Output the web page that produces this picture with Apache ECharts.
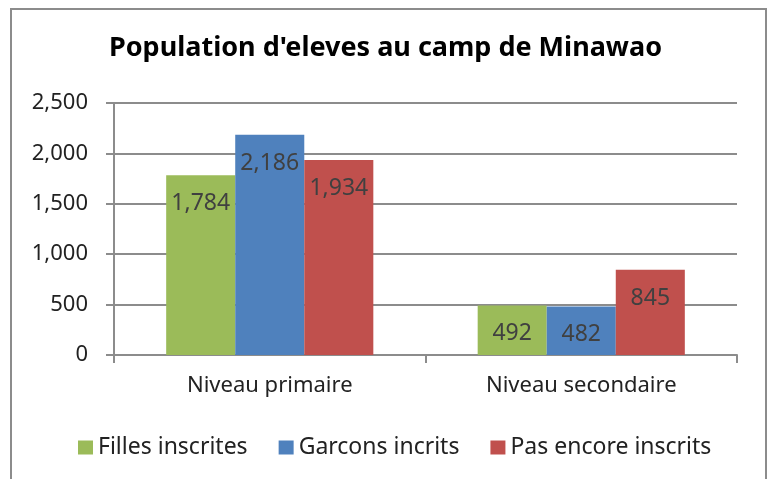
<!DOCTYPE html>
<html>
<head>
<meta charset="utf-8">
<script src="https://cdn.jsdelivr.net/npm/echarts@6/dist/echarts.min.js"></script>
<style>
  html, body { margin: 0; padding: 0; background: #fff; }
  #chart { width: 771px; height: 479px; }
</style>
</head>
<body>
<div id="chart"></div>
<script>
const categories = ['Niveau primaire', 'Niveau secondaire'];
const filles = [1784, 492];
const garcons = [2186, 482];
const pasInscrits = [1934, 845];
const seriesNames = ['Filles inscrites', 'Garcons incrits', 'Pas encore inscrits'];
const seriesColors = ['#9bbb59', '#4f81bd', '#c0504d'];

const chart = echarts.init(document.getElementById('chart'));
const font = 'Noto Sans';
const gray = '#8c8c8c';

function makeSeries(name, data, color) {
  return {
    name: name,
    type: 'bar',
    data: data,
    barGap: '0%',
    barCategoryGap: '33.5%',
    itemStyle: { color: color },
    label: {
      show: true,
      position: 'insideTop',
      distance: 17,
      color: '#404040',
      fontFamily: font,
      fontSize: 23,
      formatter: p => p.value.toLocaleString('en-US')
    }
  };
}

const option = {
  animation: false,
  graphic: [{
    type: 'rect',
    shape: { x: 11, y: 9, width: 755, height: 490 },
    style: { fill: 'none', stroke: gray, lineWidth: 2 },
    silent: true
  }],
  title: {
    text: "Population d'eleves au camp de Minawao",
    left: 'center',
    top: 30,
    textStyle: { fontFamily: font, fontSize: 27, fontWeight: 'bold', color: '#000' }
  },
  legend: {
    data: seriesNames,
    left: 78,
    top: 436,
    padding: 0,
    icon: 'rect',
    itemWidth: 15,
    itemHeight: 14,
    itemGap: 31,
    textStyle: { fontFamily: font, fontSize: 23, color: '#222' }
  },
  grid: { left: 114, right: 34, top: 103, bottom: 124 },
  xAxis: {
    type: 'category',
    data: categories,
    axisLine: { lineStyle: { color: gray, width: 2 } },
    axisTick: { show: true, length: 8, lineStyle: { color: gray, width: 2 } },
    axisLabel: { fontFamily: font, fontSize: 22, color: '#222', margin: 20 }
  },
  yAxis: {
    type: 'value',
    min: 0,
    max: 2500,
    interval: 500,
    axisLine: { show: true, lineStyle: { color: gray, width: 2 } },
    axisTick: { show: true, length: 8, lineStyle: { color: gray, width: 2 } },
    splitLine: { lineStyle: { color: gray, width: 2 } },
    axisLabel: {
      fontFamily: font, fontSize: 22, color: '#222', margin: 26,
      formatter: v => v.toLocaleString('en-US')
    }
  },
  series: [
    makeSeries(seriesNames[0], filles, seriesColors[0]),
    makeSeries(seriesNames[1], garcons, seriesColors[1]),
    makeSeries(seriesNames[2], pasInscrits, seriesColors[2])
  ]
};

chart.setOption(option);
</script>
</body>
</html>
